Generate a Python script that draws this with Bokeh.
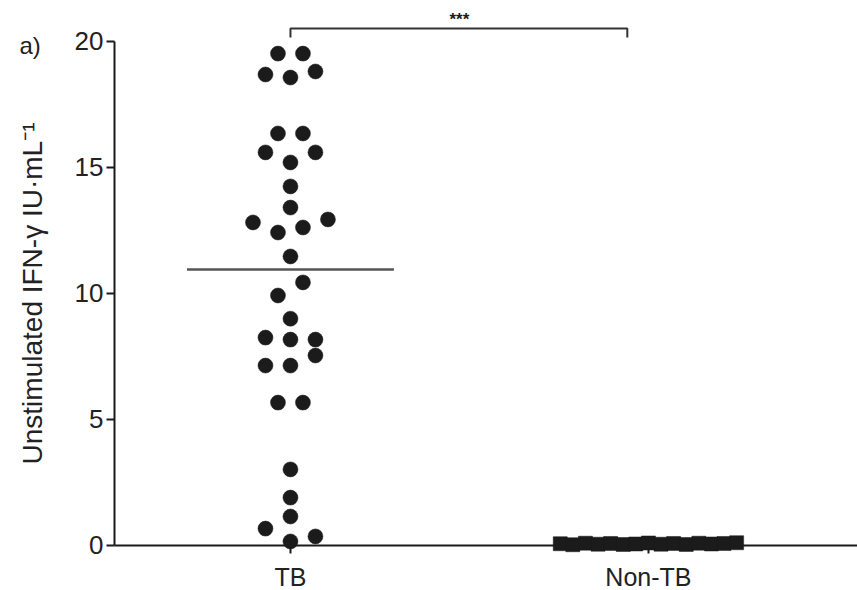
from bokeh.plotting import figure
from bokeh.models import FixedTicker
from bokeh.core.properties import value
from bokeh.embed import file_html
from bokeh.resources import INLINE
import numpy as np

# ---- data ----
GROUPS = ["TB", "Non-TB"]
TB_VALUES = [19.52, 19.52, 18.69, 18.57, 18.81, 16.35, 16.35, 15.6, 15.2, 15.6,
             14.25, 13.41, 12.82, 12.42, 12.62, 12.94, 11.47, 9.92, 10.44, 9.0,
             8.25, 8.17, 8.17, 7.14, 7.14, 7.54, 5.67, 5.67, 3.02, 1.9, 1.15,
             0.67, 0.16, 0.36]
NONTB_VALUES = [0.07, 0.03, 0.09, 0.05, 0.08, 0.04, 0.06, 0.10, 0.05, 0.08,
                0.04, 0.09, 0.06, 0.08, 0.11]
Y_TICKS = [0, 5, 10, 15, 20]
SIGNIF = "***"
Y_LABEL = "Unstimulated IFN-\u03b3 IU\u00b7mL\u207b\u00b9"
PANEL = "a)"

FONT = "Liberation Sans"
INK = "#1b1b1b"
TXT = "#222222"

W, H = 857, 590
X0, X1 = -0.810, 1.584
Y0, Y1 = -1.786, 21.627
YAXIS_AT = -0.4916


def swarm_offsets(vals, step, thresh):
    order = sorted(range(len(vals)), key=lambda i: vals[i])
    clusters = []
    for i in order:
        if clusters and vals[i] - vals[clusters[-1][0]] <= thresh:
            clusters[-1].append(i)
        else:
            clusters.append([i])
    off = [0.0] * len(vals)
    for c in clusters:
        cs = sorted(c)
        n = len(cs)
        for k, i in enumerate(cs):
            off[i] = (k - (n - 1) / 2) * step
    return off


p = figure(width=W, height=H, output_backend="svg", toolbar_location=None,
           x_range=(X0, X1), y_range=(Y0, Y1),
           min_border_left=0, min_border_right=0, min_border_top=0,
           min_border_bottom=0)
p.outline_line_color = None
p.xgrid.visible = False
p.ygrid.visible = False
p.background_fill_color = "white"
p.border_fill_color = "white"

tb_off = swarm_offsets(TB_VALUES, 0.0698, 0.6)
nt_off = swarm_offsets(NONTB_VALUES, 0.0352, 0.6)
tb_x = [0 + o for o in tb_off]
nt_x = [1 + o for o in nt_off]

# median line
med = float(np.median(TB_VALUES))
p.segment(x0=[-0.289], x1=[0.289], y0=[med], y1=[med],
          line_color="#555555", line_width=2.5)

p.scatter(tb_x, TB_VALUES, marker="circle", size=15, fill_color=INK,
          line_color=INK, line_width=0.5)
p.scatter(nt_x, NONTB_VALUES, marker="square", size=14, fill_color=INK,
          line_color=INK, line_width=0.5)

# significance bracket
p.line(x=[0, 0, 0.941, 0.941], y=[20.16, 20.52, 20.52, 20.16],
       line_color="#333333", line_width=2)
p.text(x=[0.472], y=[20.86], text=[SIGNIF], text_align="center",
       text_baseline="middle", text_font_size="17px", text_font_style="bold",
       text_color=INK, text_font=value(FONT))

# panel letter
p.text(x=[-0.757], y=[19.85], text=[PANEL], text_align="left",
       text_baseline="middle", text_font_size="24px", text_color=TXT,
       text_font=value(FONT))

# axes
ya = p.yaxis[0]
ya.fixed_location = YAXIS_AT
ya.ticker = FixedTicker(ticks=Y_TICKS)
ya.bounds = (0, 20)
ya.axis_line_color = INK
ya.axis_line_width = 2
ya.major_tick_line_color = INK
ya.major_tick_line_width = 2
ya.major_tick_out = 8
ya.major_tick_in = 0
ya.minor_tick_line_color = None
ya.major_label_text_font = FONT
ya.major_label_text_font_size = "26px"
ya.major_label_text_color = TXT
ya.major_label_standoff = 3
ya.axis_label = Y_LABEL
ya.axis_label_text_font = FONT
ya.axis_label_text_font_size = "28px"
ya.axis_label_text_font_style = "normal"
ya.axis_label_text_color = TXT
ya.axis_label_standoff = 24

xa = p.xaxis[0]
xa.fixed_location = 0
xa.level = "underlay"
xa.bounds = (YAXIS_AT, X1)
xa.ticker = FixedTicker(ticks=[0, 1])
xa.major_label_overrides = {0: GROUPS[0], 1: GROUPS[1]}
xa.axis_line_color = INK
xa.axis_line_width = 2
xa.major_tick_line_color = INK
xa.major_tick_line_width = 2
xa.major_tick_in = 0
xa.major_tick_out = 8
xa.minor_tick_line_color = None
xa.major_label_text_font = FONT
xa.major_label_text_font_size = "25px"
xa.major_label_text_color = TXT
xa.major_label_standoff = 10

open("out.html", "w").write(file_html(p, INLINE))
